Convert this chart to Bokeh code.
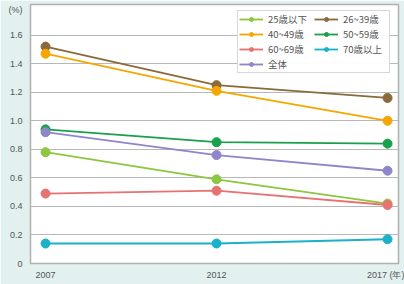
from bokeh.plotting import figure
from bokeh.models import (Range1d, FixedTicker, Legend, LegendItem)
from bokeh.embed import file_html
from bokeh.resources import INLINE

years = [2007, 2012, 2017]
x_tick_labels = ["2007", "2012", "2017 (年)"]
y_ticks = [0, 0.2, 0.4, 0.6, 0.8, 1.0, 1.2, 1.4, 1.6]
y_tick_labels = ["0", "0.2", "0.4", "0.6", "0.8", "1.0", "1.2", "1.4", "1.6"]
unit_label = "(%)"
unit_pos = 1.773

names = ["25歳以下", "26~39歳", "40~49歳", "50~59歳", "60~69歳", "70歳以上", "全体"]
v_25 = [0.78, 0.59, 0.42]
v_26_39 = [1.52, 1.25, 1.16]
v_40_49 = [1.47, 1.21, 1.00]
v_50_59 = [0.94, 0.85, 0.84]
v_60_69 = [0.49, 0.51, 0.41]
v_70 = [0.14, 0.14, 0.17]
v_all = [0.92, 0.76, 0.65]
series = [v_25, v_26_39, v_40_49, v_50_59, v_60_69, v_70, v_all]
colors = ["#8dc63f", "#8a6a3a", "#f5a700", "#18a04a", "#e87272", "#1ab1c9", "#8f86c9"]

p = figure(width=404, height=284, output_backend="svg", toolbar_location=None,
           x_range=Range1d(2006.56, 2017.32), y_range=Range1d(0, 1.815),
           min_border_left=30, min_border_right=6, min_border_top=4, min_border_bottom=21)
p.border_fill_color = "#e2f0f0"
p.background_fill_color = "white"
p.outline_line_color = "#b0b0b0"
p.outline_line_width = 1.5

p.xgrid.grid_line_color = None
p.ygrid.grid_line_color = "#b8b8b8"
p.ygrid.grid_line_width = 1
p.ygrid.ticker = FixedTicker(ticks=y_ticks)

p.xaxis.ticker = FixedTicker(ticks=years)
p.xaxis.major_label_overrides = {y: l for y, l in zip(years, x_tick_labels)}
p.yaxis.ticker = FixedTicker(ticks=y_ticks + [unit_pos])
overrides = {t: l for t, l in zip(y_ticks, y_tick_labels)}
overrides[unit_pos] = unit_label
p.yaxis.major_label_overrides = overrides
for ax in (p.xaxis, p.yaxis):
    ax.axis_line_color = None
    ax.major_tick_line_color = None
    ax.minor_tick_line_color = None
    ax.major_tick_out = 0
    ax.major_tick_in = 0
    ax.major_label_text_font = "Liberation Sans"
    ax.major_label_text_font_size = "9px"
    ax.major_label_text_color = "#555555"
p.yaxis.major_label_standoff = 8
p.xaxis.major_label_standoff = 6

items = {}
for name, vals, c in zip(names, series, colors):
    r1 = p.line(years, vals, line_color=c, line_width=1.8)
    r2 = p.scatter(years, vals, size=9, fill_color=c, line_color=c)
    items[name] = LegendItem(label=name, renderers=[r1, r2])

order = ["25歳以下", "40~49歳", "60~69歳", "全体", "26~39歳", "50~59歳", "70歳以上"]
legend = Legend(items=[items[n] for n in order], ncols=2, location=(207, 190),
                margin=0, padding=1, spacing=1, glyph_width=24, glyph_height=10,
                label_height=10, label_width=45, label_standoff=5,
                label_text_font="Noto Sans CJK JP", label_text_font_size="9.5px",
                label_text_color="#555555", border_line_color="#b0b0b0",
                border_line_width=1, background_fill_color="white")
p.add_layout(legend)

open("out.html", "w").write(file_html(p, INLINE))
